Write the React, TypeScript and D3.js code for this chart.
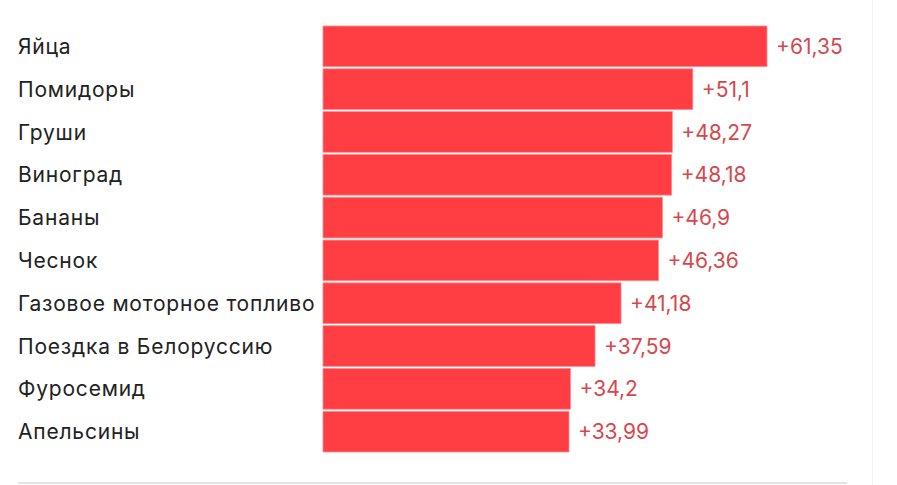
import React from "react";
import * as d3 from "d3";

const categories = [
  "Яйца",
  "Помидоры",
  "Груши",
  "Виноград",
  "Бананы",
  "Чеснок",
  "Газовое моторное топливо",
  "Поездка в Белоруссию",
  "Фуросемид",
  "Апельсины",
];
const values = [61.35, 51.1, 48.27, 48.18, 46.9, 46.36, 41.18, 37.59, 34.2, 33.99];
const valueLabels = ["+61,35", "+51,1", "+48,27", "+48,18", "+46,9", "+46,36", "+41,18", "+37,59", "+34,2", "+33,99"];

const W = 897;
const H = 485;

export default function App() {
  const x = d3.scaleLinear().domain([0, 61.35]).range([323, 767]);
  const y = d3.scaleBand<string>().domain(categories).range([26, 452]).paddingInner(0.05).paddingOuter(0);
  const font = "Inter, Roboto, 'Noto Sans', sans-serif";
  return (
    <div style={{ position: "fixed", left: 0, top: 0 }}>
      <svg width={W} height={H} style={{ display: "block", background: "#fff" }}>
        <line x1={872.5} x2={872.5} y1={0} y2={H} stroke="#f4f4f4" strokeWidth={1} />
        <line x1={18} x2={847} y1={483} y2={483} stroke="#e6e6e8" strokeWidth={2} />
        {categories.map((c, i) => {
          const yy = y(c)!;
          const bh = y.bandwidth();
          return (
            <g key={c}>
              <rect
                x={x(0)}
                y={yy}
                width={x(values[i]) - x(0)}
                height={bh}
                fill="#fe3e43"
                stroke="#ff8c8f"
                strokeWidth={0.8}
              />
              <text
                x={18}
                y={yy + bh / 2}
                dy="0.36em"
                fontFamily={font}
                fontSize={21}
                letterSpacing={0.8}
                fill="#222"
              >
                {c}
              </text>
              <text
                x={x(values[i]) + 9}
                y={yy + bh / 2}
                dy="0.36em"
                fontFamily={font}
                fontSize={21}
                fill="#d8474d"
              >
                {valueLabels[i]}
              </text>
            </g>
          );
        })}
      </svg>
    </div>
  );
}
